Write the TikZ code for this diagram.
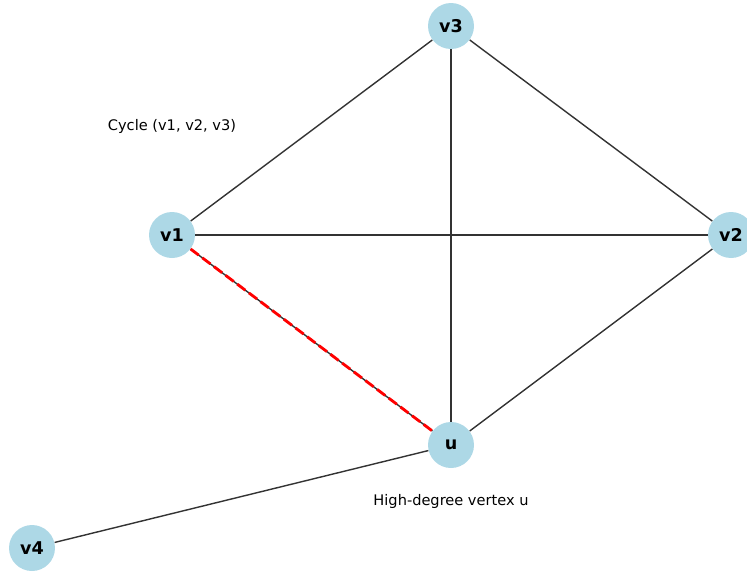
\documentclass[tikz,border=0pt]{standalone}
\usepackage{fontspec}
\setmainfont{DejaVu Sans}
\usepackage{tikz}

\begin{document}
\begin{tikzpicture}[x=0.02cm,y=-0.02cm]
\tikzstyle{vert}=[circle,fill={rgb,255:red,173;green,216;blue,230},minimum size=0.92cm,inner sep=0pt,font=\fontsize{10}{12}\selectfont\bfseries]
\tikzstyle{edge}=[black!80,line width=0.8pt]
\tikzstyle{note}=[font=\fontsize{8.3}{10}\selectfont]
\useasboundingbox (0,0) rectangle (747,572);
\node [vert] (v3) at (451,26) {v3};
\node [vert] (v1) at (172,235) {v1};
\node [vert] (v2) at (731,235) {v2};
\node [vert] (u) at (451,445) {u};
\node [vert] (v4) at (32,548) {v4};
\draw [edge] (v3) -- (v1);
\draw [edge] (v3) -- (v2);
\draw [edge] (v3) -- (u);
\draw [edge] (v1) -- (v2);
\draw [edge] (v2) -- (u);
\draw [edge] (v1) -- (u);
\draw [red,line width=1.6pt,dash pattern=on 5.8pt off 2.5pt] (v1) -- (u);
\draw [edge] (u) -- (v4);
\node [note] (cyc) at (172,126) {Cycle (v1, v2, v3)};
\node [note] (hdv) at (451,501) {High-degree vertex u};
\end{tikzpicture}
\end{document}
